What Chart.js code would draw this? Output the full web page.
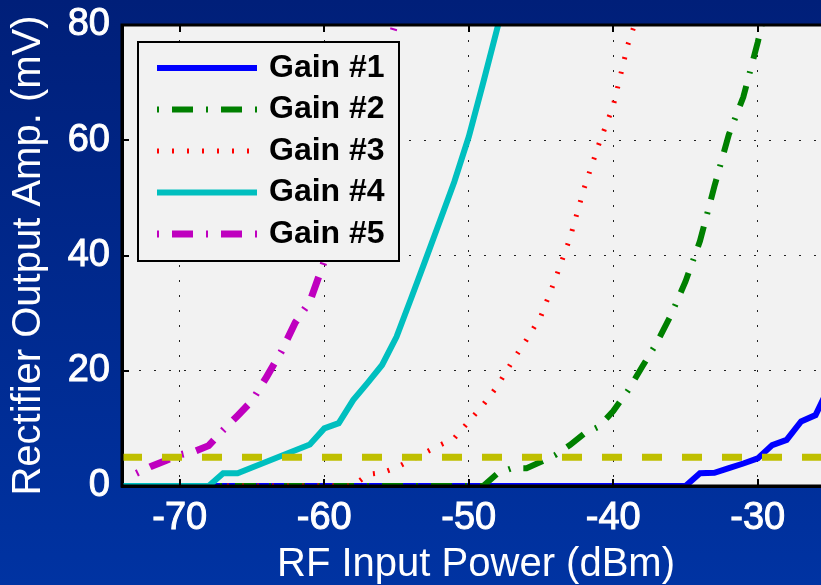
<!DOCTYPE html>
<html>
<head>
<meta charset="utf-8">
<script src="https://cdn.jsdelivr.net/npm/chart.js@4.4.1/dist/chart.umd.min.js"></script>
<style>
  html, body { margin: 0; padding: 0; overflow: hidden; }
  body { width: 821px; height: 585px; background: linear-gradient(#001f79, #0033a2); }
  #wrap { position: relative; width: 830px; height: 585px; }
</style>
</head>
<body>
<div id="wrap"><canvas id="gainChart"></canvas></div>
<script>
// RF input sweep (dBm), one sample per dBm
const powerDbm = [
  -74, -73, -72, -71, -70, -69, -68, -67, -66, -65,
  -64, -63, -62, -61, -60, -59, -58, -57, -56, -55,
  -54, -53, -52, -51, -50, -49, -48, -47, -46, -45,
  -44, -43, -42, -41, -40, -39, -38, -37, -36, -35,
  -34, -33, -32, -31, -30, -29, -28, -27, -26, -25, -24
];

// rectifier output amplitude (mV) per gain setting
const gain1 = [
  0, 0, 0, 0, 0, 0, 0, 0, 0, 0,
  0, 0, 0, 0, 0, 0, 0, 0, 0, 0,
  0, 0, 0, 0, 0, 0, 0, 0, 0, 0,
  0, 0, 0, 0, 0, 0, 0, 0, 0, 0,
  2.2, 2.3, 3.1, 3.9, 4.8, 7.1, 8.0, 11.2, 12.3, 17.5, 20.0
];
const gain2 = [
  0, 0, 0, 0, 0, 0, 0, 0, 0, 0,
  0, 0, 0, 0, 0, 0, 0, 0, 0, 0,
  0, 0, 0, 0, 0, 0, 2.2, 3.1, 3.1, 4.2,
  5.4, 7.1, 9.1, 10.3, 13.0, 16.5, 20.7, 24.8, 29.7, 35.5,
  42.5, 52.0, 61.0, 67.5, 77.0, 88.0, null, null, null, null, null
];
const gain3 = [
  0, 0, 0, 0, 0, 0, 0, 0, 0, 0,
  0, 0, 0, 0, 0, 0, 0, 2.0, 2.3, 3.2,
  4.5, 5.8, 7.1, 8.3, 11.2, 14.1, 17.4, 21.6, 25.4, 29.5,
  36.0, 43.0, 51.8, 59.3, 66.0, 76.5, 84.0, null, null, null,
  null, null, null, null, null, null, null, null, null, null, null
];
const gain4 = [
  0, 0, 0, 0, 0, 0, 0, 2.2, 2.2, 3.2,
  4.2, 5.2, 6.2, 7.2, 10.0, 10.9, 14.9, 17.9, 21.0, 25.9,
  32.5, 39.2, 46.0, 52.8, 60.6, 70.0, 79.7, 90.0, null, null,
  null, null, null, null, null, null, null, null, null, null,
  null, null, null, null, null, null, null, null, null, null, null
];
const gain5 = [
  null, 2.2, 3.4, 4.4, 5.4, 6.0, 7.0, 9.7, 12.2, 14.8,
  18.9, 23.2, 28.4, 32.0, 39.0, 47.0, 55.0, 63.5, 72.5, 81.0,
  null, null, null, null, null, null, null, null, null, null,
  null, null, null, null, null, null, null, null, null, null,
  null, null, null, null, null, null, null, null, null, null, null
];
const thresholdMv = 5;

const seriesLabels = ["Gain #1", "Gain #2", "Gain #3", "Gain #4", "Gain #5"];
const xTicks = [-70, -60, -50, -40, -30];
const yTicks = [0, 20, 40, 60, 80];

const FONT = "'Liberation Sans', Arial, sans-serif";

const styles = [
  { color: "#0000ff", width: 6, dash: [] },
  { color: "#008000", width: 6, dash: [2, 13, 21, 13] },
  { color: "#ff0000", width: 5, dash: [2, 13] },
  { color: "#00bfbf", width: 6, dash: [] },
  { color: "#bf00bf", width: 7, dash: [2, 13, 21, 13] }
];

const toPoints = ys => powerDbm.map((x, i) => ({ x, y: ys[i] }));

const datasets = [gain1, gain2, gain3, gain4, gain5].map((ys, i) => ({
  label: seriesLabels[i],
  data: toPoints(ys),
  borderColor: styles[i].color,
  borderWidth: styles[i].width,
  borderDash: styles[i].dash,
  pointRadius: 0,
  tension: 0,
  fill: false,
  order: 5 - i
}));
datasets.push({
  label: "",
  data: toPoints(powerDbm.map(() => thresholdMv)),
  borderColor: "#bfbf00",
  borderWidth: 7,
  borderDash: [20, 20],
  pointRadius: 0,
  fill: false,
  order: 0
});

// light grey plot face
const plotFace = {
  id: "plotFace",
  beforeDraw(chart) {
    const { ctx, chartArea: a } = chart;
    ctx.save();
    ctx.fillStyle = "#f2f2f2";
    ctx.fillRect(a.left, a.top, a.right - a.left, a.bottom - a.top);
    ctx.restore();
  }
};

// axes box + inward tick marks on top of the lines
const axesBox = {
  id: "axesBox",
  afterDatasetsDraw(chart) {
    const { ctx, chartArea: a, scales } = chart;
    ctx.save();
    ctx.strokeStyle = "#000";
    ctx.lineWidth = 3;
    ctx.beginPath();
    ctx.moveTo(a.right + 5, a.top);
    ctx.lineTo(a.left, a.top);
    ctx.lineTo(a.left, a.bottom);
    ctx.lineTo(a.right + 5, a.bottom);
    ctx.stroke();
    ctx.lineWidth = 2;
    ctx.beginPath();
    xTicks.forEach(v => {
      const px = Math.round(scales.x.getPixelForValue(v));
      ctx.moveTo(px, a.bottom); ctx.lineTo(px, a.bottom - 7);
      ctx.moveTo(px, a.top); ctx.lineTo(px, a.top + 7);
    });
    yTicks.forEach(v => {
      const py = Math.round(scales.y.getPixelForValue(v));
      ctx.moveTo(a.left, py); ctx.lineTo(a.left + 7, py);
    });
    ctx.stroke();
    ctx.restore();
  }
};

// boxed legend inside the plot, top-left
const boxLegend = {
  id: "boxLegend",
  afterDraw(chart) {
    const { ctx, chartArea: a } = chart;
    const x0 = a.left + 16, y0 = a.top + 17, w = 261, h = 219;
    ctx.save();
    ctx.fillStyle = "#f2f2f2";
    ctx.fillRect(x0, y0, w, h);
    ctx.strokeStyle = "#000";
    ctx.lineWidth = 2;
    ctx.strokeRect(x0, y0, w, h);
    ctx.font = "bold 32px " + FONT;
    ctx.textBaseline = "middle";
    ctx.fillStyle = "#000";
    chart.data.datasets.slice(0, 5).forEach((ds, i) => {
      const y = y0 + 26 + i * 41.5;
      ctx.beginPath();
      ctx.setLineDash(ds.borderDash);
      ctx.lineDashOffset = 0;
      ctx.strokeStyle = ds.borderColor;
      ctx.lineWidth = ds.borderWidth;
      ctx.moveTo(x0 + 19, y);
      ctx.lineTo(x0 + 119, y);
      ctx.stroke();
      ctx.setLineDash([]);
      ctx.fillText(ds.label, x0 + 131, y);
    });
    ctx.restore();
  }
};

new Chart(document.getElementById("gainChart"), {
  type: "line",
  data: { datasets },
  plugins: [plotFace, axesBox, boxLegend],
  options: {
    responsive: true,
    maintainAspectRatio: false,
    animation: false,
    devicePixelRatio: 1,
    layout: { padding: { top: 25, right: 0, bottom: 0, left: 0 } },
    plugins: { legend: { display: false }, tooltip: { enabled: false } },
    scales: {
      x: {
        type: "linear",
        min: -74,
        max: -25,
        afterBuildTicks: s => { s.ticks = xTicks.map(v => ({ value: v })); },
        afterFit: s => { s.height = 99; s.paddingLeft = 0; s.paddingRight = 0; },
        grid: { color: "#222", lineWidth: 1, drawTicks: false },
        border: { color: "#000", width: 3, dash: [2, 13] },
        ticks: { color: "#fff", textStrokeColor: "#fff", textStrokeWidth: 1, font: { family: FONT, size: 38 }, padding: 10, maxRotation: 0, autoSkip: false },
        title: { display: true, text: "RF Input Power (dBm)", color: "#fff", font: { family: FONT, size: 40, lineHeight: 1 }, padding: 0 }
      },
      y: {
        min: 0,
        max: 80,
        afterBuildTicks: s => { s.ticks = yTicks.map(v => ({ value: v })); },
        afterFit: s => { s.width = 122; s.paddingTop = 0; s.paddingBottom = 0; },
        grid: { color: "#222", lineWidth: 1, drawTicks: false },
        border: { color: "#000", width: 3, dash: [2, 13] },
        ticks: { color: "#fff", textStrokeColor: "#fff", textStrokeWidth: 1, font: { family: FONT, size: 38 }, padding: 12 },
        title: { display: true, text: "Rectifier Output Amp. (mV)", color: "#fff", font: { family: FONT, size: 40 }, padding: { top: 5, bottom: 0 } }
      }
    }
  }
});
</script>
</body>
</html>
